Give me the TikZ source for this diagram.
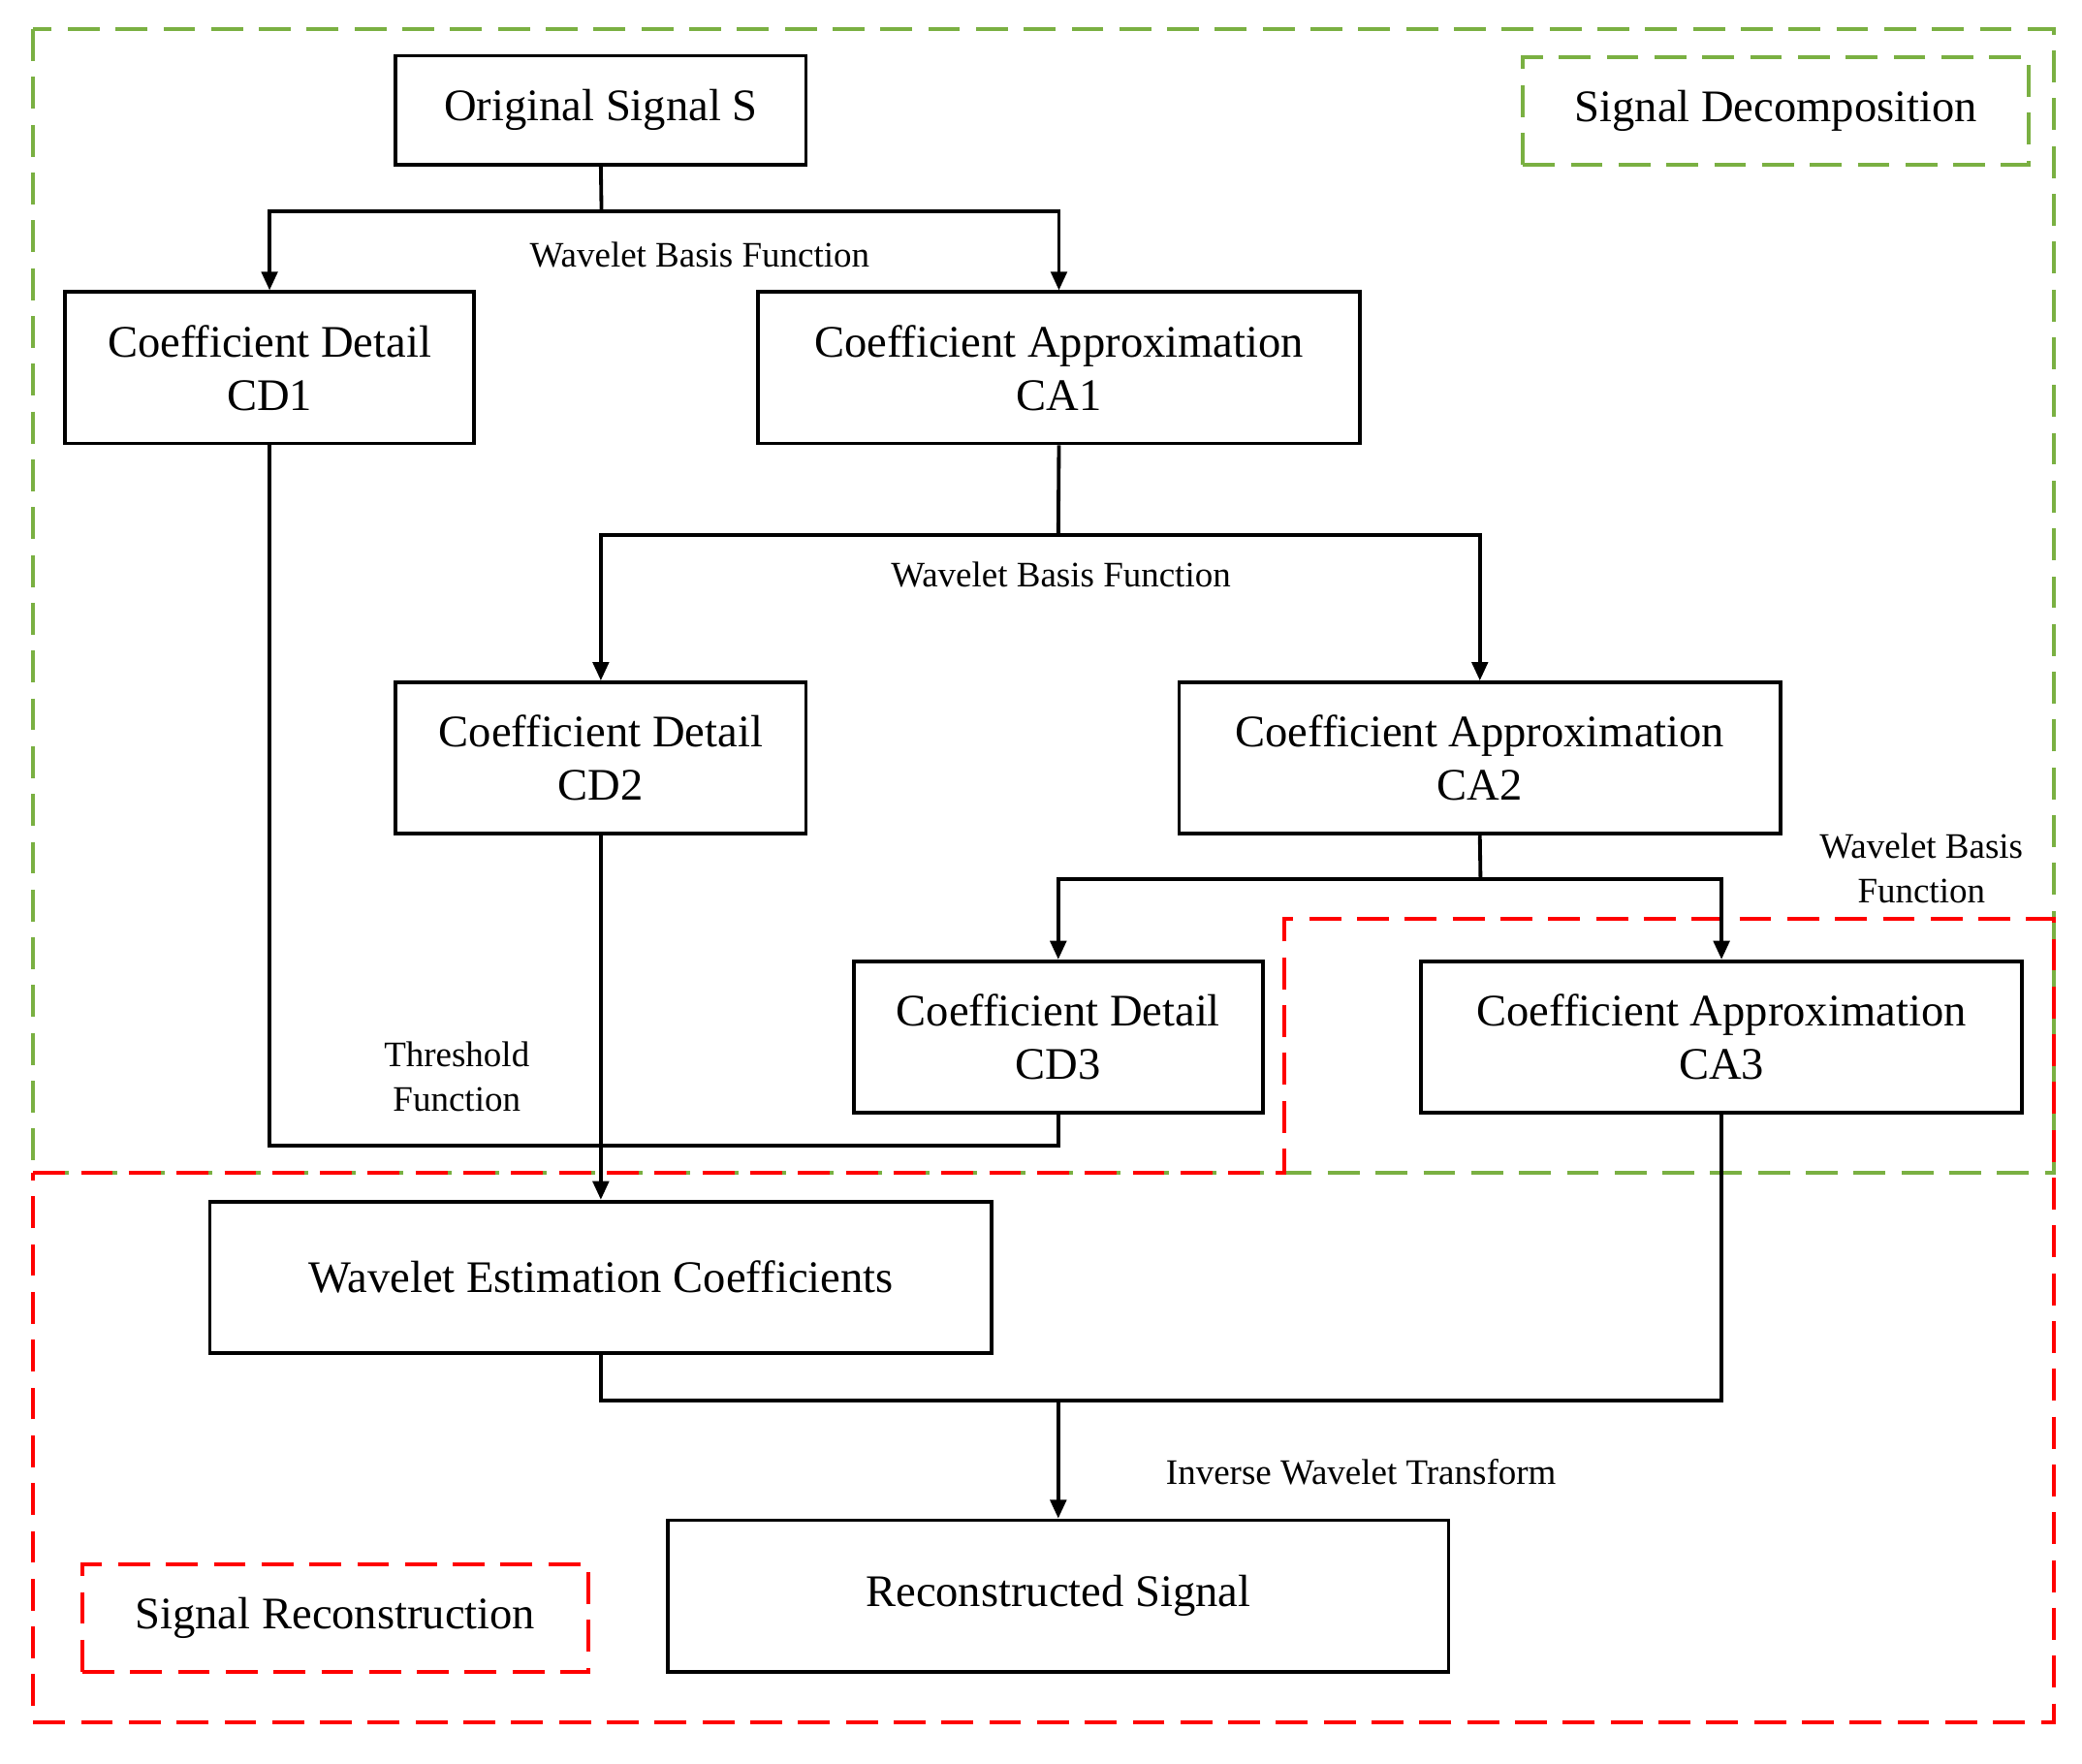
\documentclass[tikz,border=0pt]{standalone}
\usepackage{fontspec}
\setmainfont{Liberation Serif}
\usetikzlibrary{arrows.meta}
\begin{document}
\begin{tikzpicture}[x=0.5pt,y=-0.5pt,
  box/.style={draw,line width=1.4pt,inner sep=0pt,align=center,font=\fontsize{17}{20}\selectfont},
  lbl/.style={font=\fontsize{13.5}{17}\selectfont,align=center,inner sep=0pt},
  ln/.style={line width=1.4pt},
  ar/.style={line width=1.4pt,-{Triangle[length=7pt,width=6pt]}},
  gd/.style={draw={rgb,255:red,122;green,176;blue,66},line width=1.4pt,dash pattern=on 12pt off 6pt},
  rd/.style={draw=red,line width=1.4pt,dash pattern=on 12pt off 6pt}]
\useasboundingbox (0,0) rectangle (1568,1328);
% regions
\draw[gd] (25,22) rectangle (1547,883);
\draw[rd] (25,883) -- (967,883) -- (967,692) -- (1547,692) -- (1547,1297) -- (25,1297) -- cycle;
\node[gd,minimum width=190.5pt,minimum height=40.5pt,font=\fontsize{17}{20}\selectfont,inner sep=0pt] (sd) at (1337.5,83.5) {Signal Decomposition};
\node[rd,minimum width=190.5pt,minimum height=40.5pt,font=\fontsize{17}{20}\selectfont,inner sep=0pt] (sr) at (252.5,1218.5) {Signal Reconstruction};
% boxes
\node[box,minimum width=154.5pt,minimum height=41pt] (s) at (452.5,83) {Original Signal S};
\node[box,minimum width=154pt,minimum height=57pt] (cd1) at (203,277) {Coefficient Detail\\CD1};
\node[box,minimum width=226.5pt,minimum height=57pt] (ca1) at (797.5,277) {Coefficient Approximation\\CA1};
\node[box,minimum width=154.5pt,minimum height=57pt] (cd2) at (452.5,571) {Coefficient Detail\\CD2};
\node[box,minimum width=226.5pt,minimum height=57pt] (ca2) at (1114.5,571) {Coefficient Approximation\\CA2};
\node[box,minimum width=154pt,minimum height=57pt] (cd3) at (797,781) {Coefficient Detail\\CD3};
\node[box,minimum width=226.5pt,minimum height=57pt] (ca3) at (1296.5,781) {Coefficient Approximation\\CA3};
\node[box,minimum width=294.5pt,minimum height=57pt] (wec) at (452.5,962) {Wavelet Estimation Coefficients};
\node[box,minimum width=294pt,minimum height=57pt] (rs) at (797,1202) {Reconstructed Signal};
% connectors
\coordinate (j1) at (453,159);
\draw[ln] (s.south) -- (j1);
\draw[ar] (j1) -| (cd1.north);
\draw[ar] (j1) -| (ca1.north);
\coordinate (j2) at (797,403);
\draw[ln] (ca1.south) -- (j2);
\draw[ar] (j2) -| (cd2.north);
\draw[ar] (j2) -| (ca2.north);
\coordinate (j3) at (1115,662);
\draw[ln] (ca2.south) -- (j3);
\draw[ar] (j3) -| (cd3.north);
\draw[ar] (j3) -| (ca3.north);
\draw[ln] (cd1.south) |- (797,863) -- (cd3.south);
\draw[ar] (cd2.south) -- (wec.north);
\coordinate (j4) at (797,1055);
\draw[ln] (wec.south) |- (1296.5,1055) -- (ca3.south);
\draw[ar] (j4) -- (rs.north);
% labels
\node[lbl] (l1) at (527,192) {Wavelet Basis Function};
\node[lbl] (l2) at (799,433) {Wavelet Basis Function};
\node[lbl] (l3) at (1447,654) {Wavelet Basis\\Function};
\node[lbl] (l4) at (344,811) {Threshold\\Function};
\node[lbl] (l5) at (1025,1109) {Inverse Wavelet Transform};
\end{tikzpicture}
\end{document}
